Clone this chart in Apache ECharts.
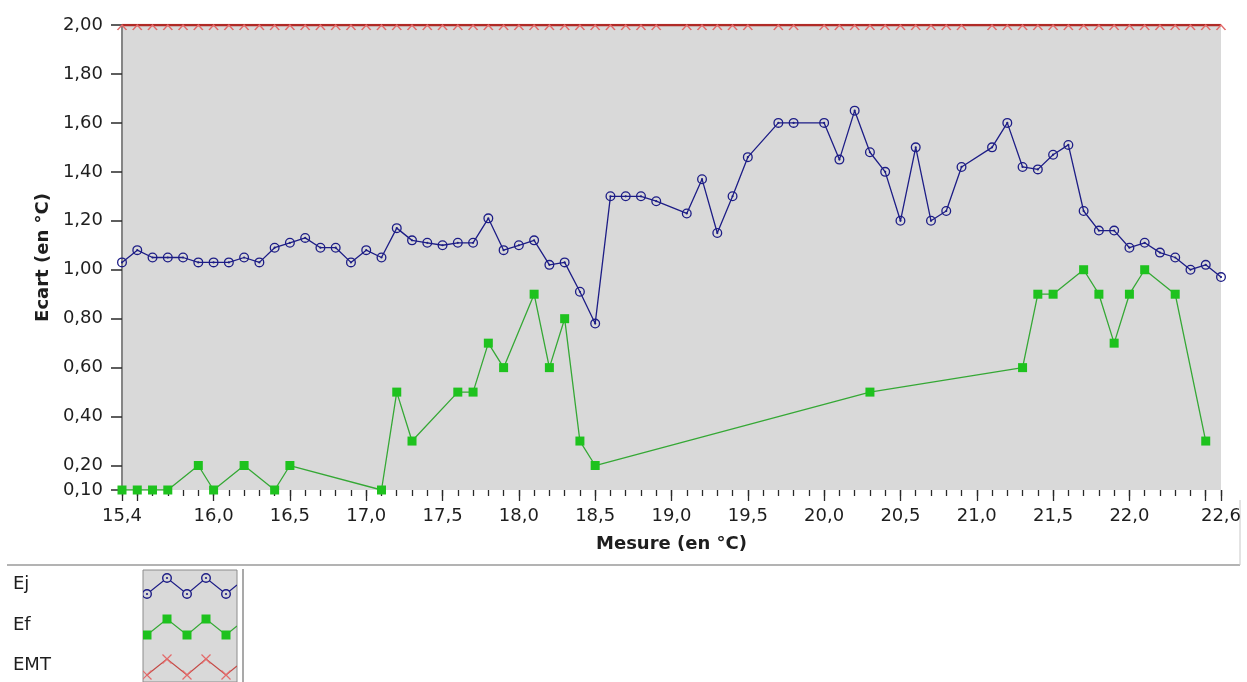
<!DOCTYPE html>
<html>
<head>
<meta charset="utf-8">
<title>Ecart / Mesure</title>
<script src="https://cdn.jsdelivr.net/npm/echarts@6/dist/echarts.min.js"></script>
<style>
  html, body { margin: 0; padding: 0; background: #fff; }
  #chart { width: 1247px; height: 682px; }
</style>
</head>
<body>
<div id="chart"></div>
<script>
// abscisses des mesures Ej / EMT (en °C)
var ejX = [15.4, 15.5, 15.6, 15.7, 15.8, 15.9, 16.0, 16.1, 16.2, 16.3, 16.4, 16.5, 16.6, 16.7, 16.8, 16.9,
           17.0, 17.1, 17.2, 17.3, 17.4, 17.5, 17.6, 17.7, 17.8, 17.9, 18.0, 18.1, 18.2, 18.3, 18.4, 18.5,
           18.6, 18.7, 18.8, 18.9, 19.1, 19.2, 19.3, 19.4, 19.5, 19.7, 19.8, 20.0, 20.1, 20.2, 20.3, 20.4,
           20.5, 20.6, 20.7, 20.8, 20.9, 21.1, 21.2, 21.3, 21.4, 21.5, 21.6, 21.7, 21.8, 21.9, 22.0, 22.1,
           22.2, 22.3, 22.4, 22.5, 22.6];
var ejY = [1.03, 1.08, 1.05, 1.05, 1.05, 1.03, 1.03, 1.03, 1.05, 1.03, 1.09, 1.11, 1.13, 1.09, 1.09, 1.03,
           1.08, 1.05, 1.17, 1.12, 1.11, 1.10, 1.11, 1.11, 1.21, 1.08, 1.10, 1.12, 1.02, 1.03, 0.91, 0.78,
           1.30, 1.30, 1.30, 1.28, 1.23, 1.37, 1.15, 1.30, 1.46, 1.60, 1.60, 1.60, 1.45, 1.65, 1.48, 1.40,
           1.20, 1.50, 1.20, 1.24, 1.42, 1.50, 1.60, 1.42, 1.41, 1.47, 1.51, 1.24, 1.16, 1.16, 1.09, 1.11,
           1.07, 1.05, 1.00, 1.02, 0.97];
var emtY = [2.00, 2.00, 2.00, 2.00, 2.00, 2.00, 2.00, 2.00, 2.00, 2.00, 2.00, 2.00, 2.00, 2.00, 2.00, 2.00,
            2.00, 2.00, 2.00, 2.00, 2.00, 2.00, 2.00, 2.00, 2.00, 2.00, 2.00, 2.00, 2.00, 2.00, 2.00, 2.00,
            2.00, 2.00, 2.00, 2.00, 2.00, 2.00, 2.00, 2.00, 2.00, 2.00, 2.00, 2.00, 2.00, 2.00, 2.00, 2.00,
            2.00, 2.00, 2.00, 2.00, 2.00, 2.00, 2.00, 2.00, 2.00, 2.00, 2.00, 2.00, 2.00, 2.00, 2.00, 2.00,
            2.00, 2.00, 2.00, 2.00, 2.00];

var efX = [15.4, 15.5, 15.6, 15.7, 15.9, 16.0, 16.2, 16.4, 16.5, 17.1, 17.2, 17.3, 17.6, 17.7, 17.8, 17.9,
           18.1, 18.2, 18.3, 18.4, 18.5, 20.3, 21.3, 21.4, 21.5, 21.7, 21.8, 21.9, 22.0, 22.1, 22.3, 22.5];
var efY = [0.10, 0.10, 0.10, 0.10, 0.20, 0.10, 0.20, 0.10, 0.20, 0.10, 0.50, 0.30, 0.50, 0.50, 0.70, 0.60,
           0.90, 0.60, 0.80, 0.30, 0.20, 0.50, 0.60, 0.90, 0.90, 1.00, 0.90, 0.70, 0.90, 1.00, 0.90, 0.30];

// graduations
var xLabels = [15.4, 16.0, 16.5, 17.0, 17.5, 18.0, 18.5, 19.0, 19.5, 20.0, 20.5, 21.0, 21.5, 22.0, 22.6];
var xMajor = [15.4, 15.5, 16.0, 16.5, 17.0, 17.5, 18.0, 18.5, 19.0, 19.5, 20.0, 20.5, 21.0, 21.5, 22.0, 22.5, 22.6];
var yLabels = [0.1, 0.2, 0.4, 0.6, 0.8, 1.0, 1.2, 1.4, 1.6, 1.8, 2.0];

var xMinor = [];
for (var t = 154; t <= 226; t++) {
    xMinor.push(t / 10);
}

var FONT = 'DejaVu Sans';
var TXT = '#1e1e1e';
var BLUE = '#1d1d86', GREEN = '#1ec21e', GREEN_LINE = '#35a835', RED = '#b02a26', PINK = '#e36a6a';

function pairs(xs, ys) {
    var out = [];
    for (var i = 0; i < xs.length; i++) {
        out.push([xs[i], ys[i]]);
    }
    return out;
}

function comma(v, d) {
    return v.toFixed(d).replace('.', ',');
}

// petit cercle avec point central (style LabVIEW)
var ringSymbol = 'path://M0,-5A5,5 0 1,1 0,5A5,5 0 1,1 0,-5Z' +
                 'M0,-3.7A3.7,3.7 0 1,0 0,3.7A3.7,3.7 0 1,0 0,-3.7Z' +
                 'M0,-1.1A1.1,1.1 0 1,1 0,1.1A1.1,1.1 0 1,1 0,-1.1Z';
// croix coupée par le bord haut du tracé : seule la moitié basse reste visible
var halfCross = 'path://M0,5L5,0L10,5';

// légende dessinée à la main (ligne en zigzag + marqueurs)
function legendRow(label, yc, kind) {
    var pts = [[147, yc + 8], [167, yc - 8], [187, yc + 8], [206, yc - 8], [226, yc + 8], [237, yc - 1]];
    var lineColor = kind == 'ring' ? BLUE : (kind == 'rect' ? GREEN_LINE : '#c44a46');
    var children = [{
        type: 'polyline',
        shape: { points: pts },
        style: { stroke: lineColor, lineWidth: 1.2, fill: null }
    }];
    for (var i = 0; i < 5; i++) {
        var p = pts[i];
        if (kind == 'ring') {
            children.push({ type: 'circle', shape: { cx: p[0], cy: p[1], r: 4.3 }, style: { stroke: BLUE, lineWidth: 1.4, fill: '#d9d9d9' } });
            children.push({ type: 'circle', shape: { cx: p[0], cy: p[1], r: 1.1 }, style: { fill: BLUE } });
        } else if (kind == 'rect') {
            children.push({ type: 'rect', shape: { x: p[0] - 4.5, y: p[1] - 4.5, width: 9, height: 9 }, style: { fill: GREEN } });
        } else {
            children.push({ type: 'line', shape: { x1: p[0] - 4.5, y1: p[1] - 4.5, x2: p[0] + 4.5, y2: p[1] + 4.5 }, style: { stroke: PINK, lineWidth: 1.2 } });
            children.push({ type: 'line', shape: { x1: p[0] + 4.5, y1: p[1] - 4.5, x2: p[0] - 4.5, y2: p[1] + 4.5 }, style: { stroke: PINK, lineWidth: 1.2 } });
        }
    }
    return [
        { type: 'text', left: 13, top: yc - 11, style: { text: label, font: '18px "' + FONT + '"', fill: TXT } },
        { type: 'group', children: children, clipPath: { type: 'rect', shape: { x: 143, y: 570, width: 94, height: 112 } } }
    ];
}

var chart = echarts.init(document.getElementById('chart'), null, { renderer: 'canvas' });

var graphics = [
    { type: 'line', shape: { x1: 7, y1: 565, x2: 1240, y2: 565 }, style: { stroke: '#9a9a9a', lineWidth: 1.5 } },
    { type: 'line', shape: { x1: 1240, y1: 500, x2: 1240, y2: 565 }, style: { stroke: '#c8c8c8', lineWidth: 1 } },
    { type: 'rect', shape: { x: 143, y: 570, width: 94, height: 112 }, style: { fill: '#d9d9d9', stroke: '#8c8c8c', lineWidth: 1 } },
    { type: 'line', shape: { x1: 243, y1: 569, x2: 243, y2: 682 }, style: { stroke: '#8c8c8c', lineWidth: 1.5 } }
];
graphics = graphics.concat(legendRow('Ej', 586, 'ring'))
                   .concat(legendRow('Ef', 627, 'rect'))
                   .concat(legendRow('EMT', 667, 'cross'));

var option = {
    animation: false,
    textStyle: { fontFamily: FONT },
    grid: {
        left: 122, right: 26, top: 25, bottom: 192,
        show: true, backgroundColor: '#d9d9d9', borderWidth: 0
    },
    xAxis: [{
        type: 'value',
        min: 15.4, max: 22.6,
        name: 'Mesure (en °C)',
        nameLocation: 'middle',
        nameGap: 45,
        nameTextStyle: { fontSize: 18, fontWeight: 'bold', color: TXT, fontFamily: FONT },
        axisLine: { show: false },
        splitLine: { show: false },
        axisTick: { show: true, length: 11, customValues: xMajor, lineStyle: { color: '#2a2a2a', width: 1.3 } },
        axisLabel: {
            customValues: xLabels, margin: 17, fontSize: 18, color: TXT, fontFamily: FONT,
            formatter: function (v) { return comma(v, 1); }
        }
    }, {
        type: 'value',
        min: 15.4, max: 22.6,
        position: 'bottom',
        axisLine: { show: false },
        splitLine: { show: false },
        axisTick: { show: true, length: 6, customValues: xMinor, lineStyle: { color: '#2a2a2a', width: 1.3 } },
        axisLabel: { show: false }
    }],
    yAxis: {
        type: 'value',
        min: 0.1, max: 2.0,
        name: 'Ecart (en °C)',
        nameLocation: 'middle',
        nameGap: 68,
        nameRotate: 90,
        nameTextStyle: { fontSize: 18, fontWeight: 'bold', color: TXT, fontFamily: FONT },
        axisLine: { show: true, lineStyle: { color: '#858585', width: 2 } },
        splitLine: { show: false },
        axisTick: { show: true, length: 11, customValues: yLabels, lineStyle: { color: '#2a2a2a', width: 1.5 } },
        axisLabel: {
            customValues: yLabels, margin: 19, fontSize: 18, color: TXT, fontFamily: FONT,
            formatter: function (v) { return comma(v, 2); }
        }
    },
    series: [{
        name: 'EMT',
        type: 'line',
        data: pairs(ejX, emtY),
        symbol: halfCross,
        symbolSize: [9, 5],
        symbolOffset: [0, 2.5],
        lineStyle: { color: RED, width: 2.5 },
        itemStyle: { color: 'rgba(0,0,0,0)', borderColor: PINK, borderWidth: 1.2 },
        z: 3
    }, {
        name: 'Ej',
        type: 'line',
        data: pairs(ejX, ejY),
        symbol: ringSymbol,
        symbolSize: 10,
        lineStyle: { color: BLUE, width: 1.3 },
        itemStyle: { color: BLUE, borderWidth: 0 },
        z: 4
    }, {
        name: 'Ef',
        type: 'line',
        data: pairs(efX, efY),
        symbol: 'rect',
        symbolSize: 9,
        lineStyle: { color: GREEN_LINE, width: 1.3 },
        itemStyle: { color: GREEN, borderWidth: 0 },
        z: 4
    }],
    graphic: graphics
};

chart.setOption(option);
</script>
</body>
</html>
